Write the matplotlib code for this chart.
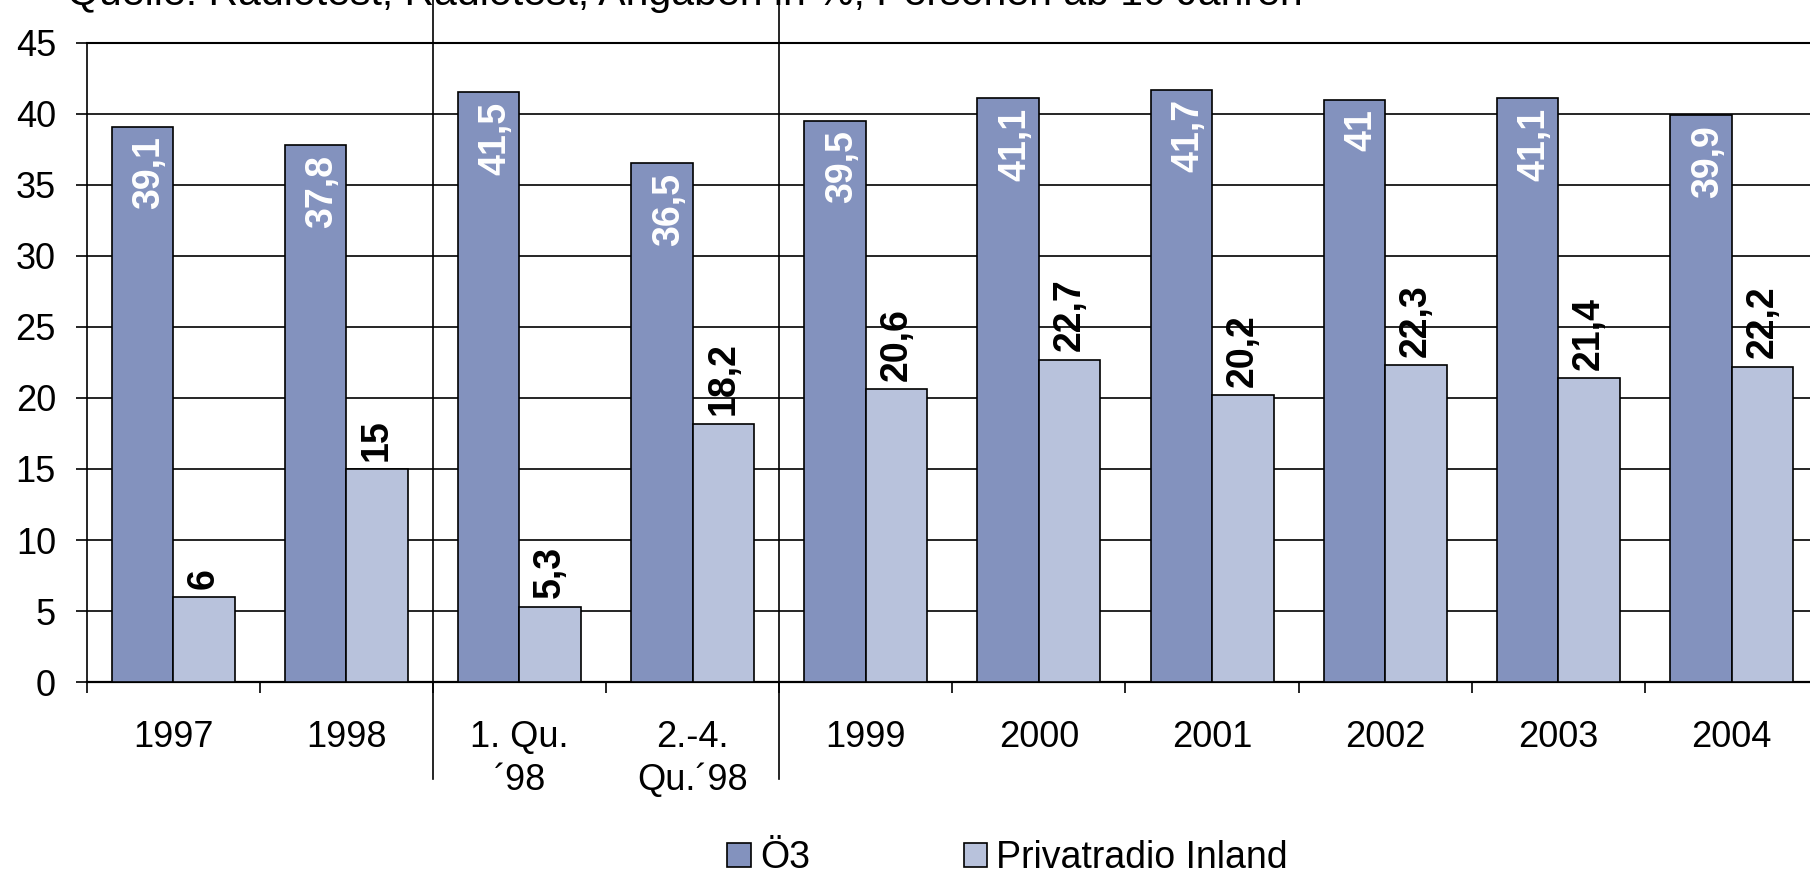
import matplotlib
matplotlib.use("Agg")
import matplotlib.pyplot as plt
from matplotlib.patches import Patch
import numpy as np

# Data
categories = ["1997", "1998", "1. Qu.\n\u00b498", "2.-4.\nQu.\u00b498",
              "1999", "2000", "2001", "2002", "2003", "2004"]
oe3 = [39.1, 37.8, 41.5, 36.5, 39.5, 41.1, 41.7, 41.0, 41.1, 39.9]
privat = [6.0, 15.0, 5.3, 18.2, 20.6, 22.7, 20.2, 22.3, 21.4, 22.2]
series_names = ["\u00d63", "Privatradio Inland"]
yticks = [0, 5, 10, 15, 20, 25, 30, 35, 40, 45]
separators = [1.5, 3.5]
source_text = "Quelle: Radiotest, Radiotest, Angaben in %, Personen ab 10 Jahren"


def fmt(v):
    if float(v).is_integer():
        return str(int(v))
    return f"{v:.1f}".replace(".", ",")


def main():
    plt.rcParams.update({
        "font.family": ["Liberation Sans", "DejaVu Sans"],
        "axes.edgecolor": "black",
        "xtick.color": "black",
        "ytick.color": "black",
    })

    dark = "#8392BE"
    light = "#B8C2DC"

    fig = plt.figure(figsize=(18.1, 8.76), dpi=100)
    ax = fig.add_axes([0.0478, 0.2213, 0.9567, 0.7300])

    x = np.arange(len(categories))
    w = 0.355
    b1 = ax.bar(x - w / 2, oe3, width=w, color=dark, edgecolor="black",
                linewidth=1.2, zorder=3)
    b2 = ax.bar(x + w / 2, privat, width=w, color=light, edgecolor="black",
                linewidth=1.2, zorder=3)

    for rect, v in zip(b1, oe3):
        ax.annotate(fmt(v), xy=(rect.get_x() + rect.get_width() / 2, v),
                    xytext=(5, -7), textcoords="offset points",
                    rotation=90, ha="center", va="top", color="white",
                    fontsize=27, fontweight="bold", zorder=5)
    for rect, v in zip(b2, privat):
        ax.annotate(fmt(v), xy=(rect.get_x() + rect.get_width() / 2, v),
                    xytext=(0, 6), textcoords="offset points",
                    rotation=90, ha="center", va="bottom", color="black",
                    fontsize=27, fontweight="bold", zorder=5)

    ax.set_xlim(-0.5, len(categories) - 0.5)
    ax.set_ylim(0, 45)
    ax.set_yticks(yticks)
    ax.yaxis.grid(True, color="black", linewidth=1.2, zorder=0)
    ax.set_axisbelow(True)

    ax.set_xticks(x)
    ax.set_xticklabels(categories, fontsize=26, linespacing=1.3)
    ax.set_xticks(np.arange(-0.5, len(categories), 1.0), minor=True)
    ax.tick_params(axis="x", which="major", length=0, pad=27)
    ax.tick_params(axis="x", which="minor", length=8, width=1.2, direction="out")
    ax.tick_params(axis="y", length=8, width=1.2, direction="out", pad=14,
                   labelsize=26)

    ax.spines["right"].set_visible(False)
    ax.spines["top"].set_linewidth(1.5)
    ax.spines["left"].set_linewidth(1.2)
    ax.spines["bottom"].set_linewidth(1.6)

    # vertical separators between category groups
    for s in separators:
        ax.plot([s, s], [-0.152, 1.07], transform=ax.get_xaxis_transform(),
                color="black", linewidth=1.2, clip_on=False, zorder=6)

    handles = [Patch(facecolor=dark, edgecolor="black", linewidth=1.2),
               Patch(facecolor=light, edgecolor="black", linewidth=1.2)]
    fig.legend(handles, series_names, loc="center left",
               bbox_to_anchor=(0.4018, 0.020), ncol=2, frameon=False,
               fontsize=27, handlelength=0.62, handleheight=0.62,
               handletextpad=0.25, columnspacing=4.1, borderpad=0,
               borderaxespad=0)

    # source line, mostly cut off by the top edge as in the reference
    fig.text(0.037, 0.9943, source_text, fontsize=29.5, ha="left",
             va="baseline", color="black")

    fig.savefig("out.png", dpi=100)


if __name__ == "__main__":
    main()
